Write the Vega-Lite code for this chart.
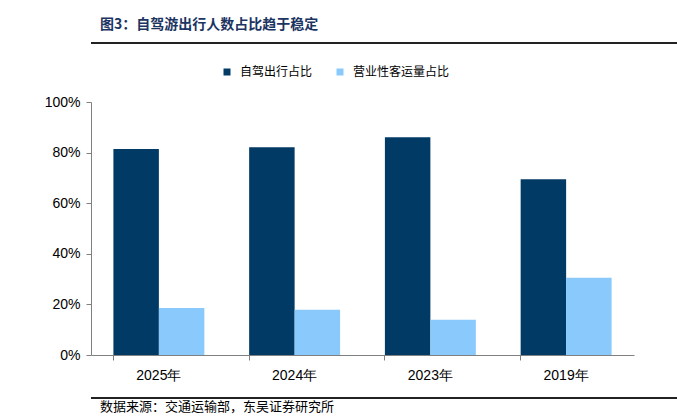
{
  "$schema": "https://vega.github.io/schema/vega-lite/v6.json",
  "padding": {"left": 23, "top": 18, "right": 0, "bottom": 0},
  "spacing": 15,
  "config": {"view": {"stroke": null}, "font": "Liberation Sans"},
  "resolve": {"legend": {"color": "independent"}, "scale": {"x": "independent", "y": "independent", "color": "independent"}},
  "vconcat": [
    {
      "title": {"text": "图3：自驾游出行人数占比趋于稳定", "anchor": "start", "dx": 10, "font": "Noto Sans CJK SC", "fontSize": 14, "fontWeight": "bold", "color": "#1B3461", "offset": 10},
      "width": 640,
      "height": 8,
      "data": {"values": [{"s": 0, "e": 1, "p": 1}]},
      "mark": {"type": "rule", "color": "#222222", "strokeWidth": 2, "clip": false},
      "encoding": {
        "x": {"field": "s", "type": "quantitative", "scale": {"domain": [0, 1], "nice": false}, "axis": null},
        "x2": {"field": "e"},
        "y": {"field": "p", "type": "quantitative", "scale": {"domain": [0, 1], "nice": false}, "axis": null}
      }
    },
    {
      "width": 543,
      "height": 253,
      "data": {"values": [
        {"year": "2025年", "series": "自驾出行占比", "value": 0.814},
        {"year": "2025年", "series": "营业性客运量占比", "value": 0.186},
        {"year": "2024年", "series": "自驾出行占比", "value": 0.821},
        {"year": "2024年", "series": "营业性客运量占比", "value": 0.179},
        {"year": "2023年", "series": "自驾出行占比", "value": 0.861},
        {"year": "2023年", "series": "营业性客运量占比", "value": 0.139},
        {"year": "2019年", "series": "自驾出行占比", "value": 0.695},
        {"year": "2019年", "series": "营业性客运量占比", "value": 0.305}
      ]},
      "mark": {"type": "bar"},
      "encoding": {
        "x": {"field": "year", "type": "nominal", "sort": ["2025年", "2024年", "2023年", "2019年"],
          "scale": {"paddingInner": 0.33, "paddingOuter": 0.165},
          "axis": {"title": null, "labelAngle": 0, "bandPosition": 0, "domainColor": "#808080", "tickColor": "#808080", "tickSize": 5, "labelFontSize": 14, "labelPadding": 8, "labelColor": "#000000", "labelFont": "Liberation Sans"}},
        "xOffset": {"field": "series", "type": "nominal", "sort": ["自驾出行占比", "营业性客运量占比"]},
        "y": {"field": "value", "type": "quantitative", "scale": {"domain": [0, 1], "nice": false},
          "axis": {"title": null, "format": ".0%", "values": [0, 0.2, 0.4, 0.6, 0.8, 1], "grid": false, "domainColor": "#808080", "tickColor": "#808080", "tickSize": 5, "labelFontSize": 14, "labelPadding": 6, "labelColor": "#000000", "minExtent": 68}},
        "color": {"field": "series", "type": "nominal", "sort": ["自驾出行占比", "营业性客运量占比"],
          "scale": {"domain": ["自驾出行占比", "营业性客运量占比"], "range": ["#023A66", "#89C9FC"]},
          "legend": {"title": null, "orient": "none", "direction": "horizontal", "legendX": 130, "legendY": -36, "symbolType": "square", "symbolSize": 49, "labelFont": "Noto Sans CJK SC", "labelFontSize": 12, "labelColor": "#000000", "labelOffset": 7, "columnPadding": 21, "padding": 0}}
      }
    },
    {
      "title": {"text": "数据来源：交通运输部，东吴证券研究所", "orient": "bottom", "anchor": "start", "dx": 10, "font": "Noto Sans CJK SC", "fontSize": 13, "fontWeight": "normal", "color": "#000000", "offset": 2},
      "width": 640,
      "height": 1,
      "data": {"values": [{"s": 0, "e": 1, "p": 1}]},
      "mark": {"type": "rule", "color": "#222222", "strokeWidth": 2},
      "encoding": {
        "x": {"field": "s", "type": "quantitative", "scale": {"domain": [0, 1], "nice": false}, "axis": null},
        "x2": {"field": "e"},
        "y": {"field": "p", "type": "quantitative", "scale": {"domain": [0, 1], "nice": false}, "axis": null}
      }
    }
  ]
}
